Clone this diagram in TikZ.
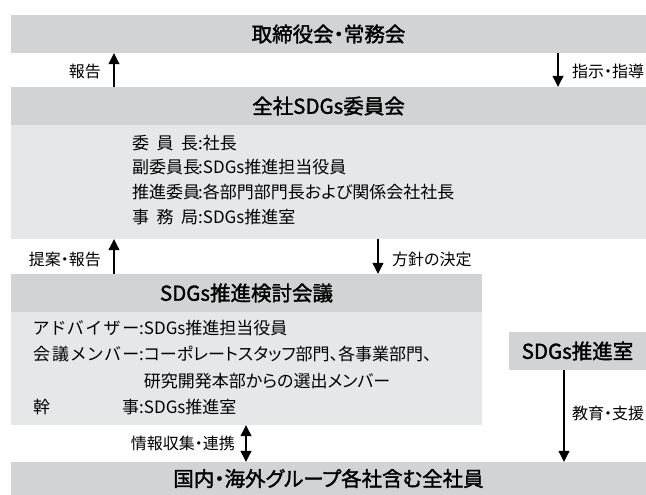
\documentclass[tikz,border=0pt]{standalone}
\usepackage{fontspec}
\setmainfont{Noto Sans CJK JP}[RawFeature=+palt]
\newfontfamily\ttlfont{Noto Sans CJK JP}[RawFeature=+palt, FakeBold=1.6]
\usetikzlibrary{arrows.meta}
\definecolor{bardark}{RGB}{209,211,212}
\definecolor{barlight}{RGB}{230,231,232}
\begin{document}
\begin{tikzpicture}[x=1pt,y=-1pt,
 bar/.style={fill=bardark, draw=none, minimum height=38pt, inner sep=0pt, font=\ttlfont\fontsize{20.5}{24}\selectfont},
 panel/.style={fill=barlight, draw=none, inner sep=0pt},
 body/.style={anchor=west, inner sep=0pt, font=\fontsize{17}{20}\selectfont},
 lbl/.style={inner sep=0pt, font=\fontsize{16}{19}\selectfont},
 tip/.tip={Triangle[width=11pt,length=11pt]},
 arr/.style={-tip, line width=1.1pt},
 darr/.style={tip-tip, line width=1.1pt}]
\useasboundingbox (0,0) rectangle (646,495);
% panels
\node[panel, minimum width=635pt, minimum height=114pt] (panel1) at (328.5,182) {};
\node[panel, minimum width=471pt, minimum height=113pt] (panel3) at (246.5,368.5) {};
% bars
\node[bar, minimum width=635pt] (board) at (328.5,34) {取締役会・常務会};
\node[bar, minimum width=635pt] (zensha) at (328.5,106) {全社SDGs委員会};
\node[bar, minimum width=471pt] (kentou) at (246.5,293) {SDGs推進検討会議};
\node[bar, minimum width=137pt] (room) at (577.5,351) {SDGs推進室};
\node[bar, minimum width=635pt, minimum height=33pt] (all) at (328.5,478.5) {国内・海外グループ各社含む全社員};
% panel 1 text
\node[body] (p1a) at (132,143) {\makebox[66pt][s]{委\hfil 員\hfil 長}:社長};
\node[body] (p1b) at (132,167) {\makebox[66pt][s]{副\hfil 委\hfil 員\hfil 長}:SDGs推進担当役員};
\node[body] (p1c) at (132,192) {\makebox[66pt][s]{推\hfil 進\hfil 委\hfil 員}:各部門部門長および関係会社社長};
\node[body] (p1d) at (132,217) {\makebox[66pt][s]{事\hfil 務\hfil 局}:SDGs推進室};
% panel 3 text
\node[body] (p3a) at (33,328) {\makebox[106pt][s]{ア\hfil ド\hfil バ\hfil イ\hfil ザ\hfil ー}:SDGs推進担当役員};
\node[body] (p3b) at (33,354) {\makebox[106pt][s]{会\hfil 議\hfil メ\hfil ン\hfil バ\hfil ー}:コーポレートスタッフ部門、各事業部門、};
\node[body] (p3c) at (p3b.west |- 0,381) {\phantom{\makebox[106pt]{}:}研究開発本部からの選出メンバー};
\node[body] (p3d) at (33,407) {\makebox[106pt][s]{幹\hfill 事}:SDGs推進室};
% arrow columns
\coordinate (cA) at (114,0);
\coordinate (cB) at (558,0);
\coordinate (cC) at (378,0);
\coordinate (cD) at (246,0);
\coordinate (cE) at (564,0);
\draw[arr] (cA |- zensha.north) -- (cA |- board.south);
\draw[arr] (cB |- board.south) -- (cB |- zensha.north);
\draw[arr] (cA |- kentou.north) -- (cA |- panel1.south);
\draw[arr] (cC |- panel1.south) -- (cC |- kentou.north);
\draw[darr] (cD |- panel3.south) -- (cD |- all.north);
\draw[arr] (cE |- room.south) -- (cE |- all.north);
% labels
\node[lbl, anchor=east] (l1) at (101,71) {報告};
\node[lbl, anchor=west] (l2) at (572,71) {指示・指導};
\node[lbl, anchor=east] (l3) at (101,259) {提案・報告};
\node[lbl, anchor=west] (l4) at (392,259) {方針の決定};
\node[lbl, anchor=east] (l5) at (235,443) {情報収集・連携};
\node[lbl, anchor=west] (l6) at (572,413) {教育・支援};
\end{tikzpicture}
\end{document}
